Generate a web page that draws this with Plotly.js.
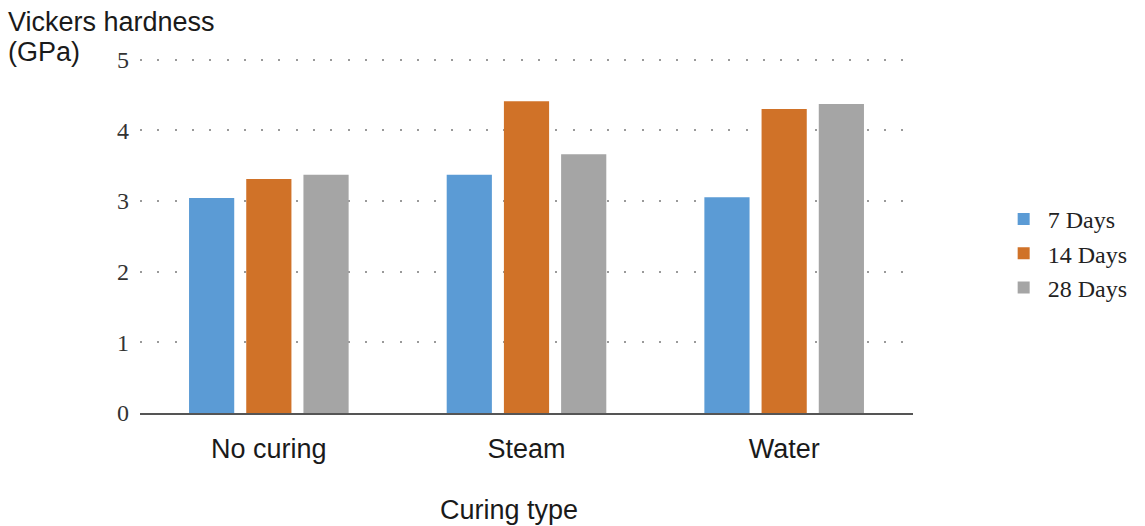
<!DOCTYPE html>
<html>
<head>
<meta charset="utf-8">
<script src="https://cdn.plot.ly/plotly-3.0.1.min.js"></script>
<style>html,body{margin:0;padding:0;background:#fff;}#chart{width:1145px;height:526px;}</style>
</head>
<body>
<div id="chart"></div>
<script>
const categories = ["No curing", "Steam", "Water"];
const seriesNames = ["7 Days", "14 Days", "28 Days"];
const days7 = [3.04, 3.37, 3.05];
const days14 = [3.31, 4.41, 4.30];
const days28 = [3.37, 3.66, 4.37];
const yTicks = [0, 1, 2, 3, 4, 5];
const colors = ["#5B9BD5", "#D07228", "#A5A5A5"];

const seriesValues = [days7, days14, days28];
const traces = seriesValues.map((vals, i) => ({
  type: "bar",
  name: seriesNames[i],
  x: categories,
  y: vals,
  marker: { color: colors[i] },
  hoverinfo: "x+y+name"
}));

const W = 1145, H = 526;
const L = 140, R = 229, T = 56, B = 113;
const pw = W - L - R, ph = H - T - B;
const px = v => (v - L) / pw;
const py = v => (H - B - v) / ph;
const yMax = 5 * ph / (ph - 3.5);

const layout = {
  width: W, height: H,
  margin: { l: L, r: R, t: T, b: B, pad: 0 },
  paper_bgcolor: "#ffffff",
  plot_bgcolor: "#ffffff",
  barmode: "group",
  bargap: 0.334,
  bargroupgap: 0.21,
  showlegend: true,
  legend: {
    x: px(1003), y: py(197), xanchor: "left", yanchor: "top",
    itemwidth: 38,
    font: { family: "Liberation Serif, Times New Roman, serif", size: 24, color: "#222" },
    bgcolor: "rgba(0,0,0,0)",
    itemclick: false
  },
  xaxis: {
    type: "category",
    showgrid: false,
    showline: true,
    linecolor: "#555",
    linewidth: 2,
    ticks: "",
    ticklabelstandoff: 11,
    tickfont: { family: "Liberation Sans, Arial, sans-serif", size: 27, color: "#1a1a1a" },
    zeroline: false,
    fixedrange: true
  },
  yaxis: {
    range: [0, yMax],
    tickvals: yTicks,
    ticktext: yTicks.map(String),
    showgrid: true,
    gridcolor: "#9a9a9a",
    gridwidth: 2,
    griddash: "2px,15.3px",
    zeroline: false,
    showline: false,
    ticks: "",
    ticklabelstandoff: 10,
    tickfont: { family: "Liberation Serif, Times New Roman, serif", size: 24, color: "#333" },
    fixedrange: true
  },
  annotations: [
    {
      text: "Vickers hardness",
      xref: "paper", yref: "paper",
      x: px(5), y: py(22), xanchor: "left", yanchor: "middle", align: "left",
      showarrow: false,
      font: { family: "Liberation Sans, Arial, sans-serif", size: 27, color: "#1a1a1a" }
    },
    {
      text: "(GPa)",
      xref: "paper", yref: "paper",
      x: px(5), y: py(52), xanchor: "left", yanchor: "middle", align: "left",
      showarrow: false,
      font: { family: "Liberation Sans, Arial, sans-serif", size: 27, color: "#1a1a1a" }
    },
    {
      text: "Curing type",
      xref: "paper", yref: "paper",
      x: px(510), y: py(510), xanchor: "center", yanchor: "middle",
      showarrow: false,
      font: { family: "Liberation Sans, Arial, sans-serif", size: 27, color: "#1a1a1a" }
    }
  ]
};

Plotly.newPlot("chart", traces, layout, { displayModeBar: false, staticPlot: true });
</script>
</body>
</html>
